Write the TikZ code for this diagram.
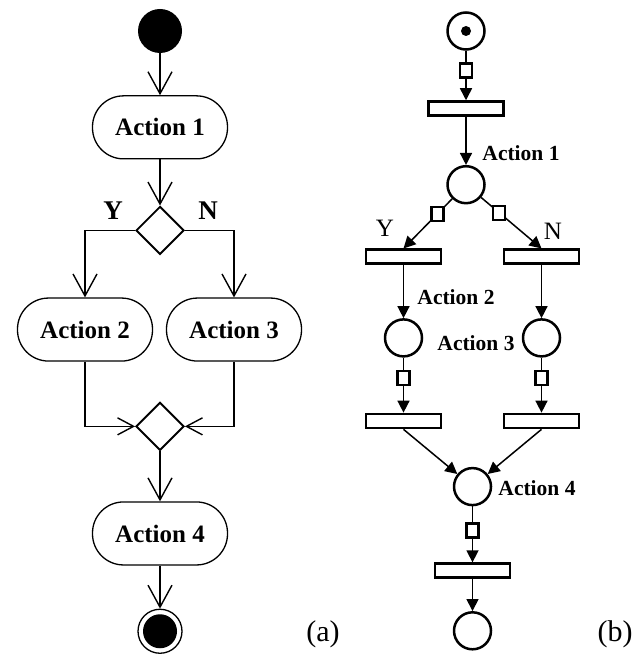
\documentclass[tikz,border=0pt]{standalone}
\usepackage{fontspec}
\setmainfont{Liberation Serif}
\usetikzlibrary{arrows.meta,positioning,shapes.geometric}

\begin{document}
\begin{tikzpicture}[
  x=1pt,y=-1pt,
  action/.style={draw,line width=1.3pt,rounded corners=31pt,minimum width=135pt,minimum height=63pt,font=\fontsize{25}{30}\selectfont\bfseries},
  decision/.style={diamond,draw,line width=1.9pt,minimum size=48pt,inner sep=0pt},
  initial/.style={circle,fill=black,minimum size=44pt,inner sep=0pt},
  final/.style={circle,draw,line width=1.3pt,minimum size=44pt,inner sep=0pt,path picture={\fill (path picture bounding box.center) circle (17pt);}},
  flow/.style={line width=1.4pt,-{Straight Barb[length=22pt,width=24pt]}},
  mergeflow/.style={line width=1.4pt,-{Straight Barb[length=16pt,width=17pt]}},
  guard/.style={font=\fontsize{27}{32}\selectfont\bfseries},
  place/.style={circle,draw,line width=2.5pt,minimum size=37pt,inner sep=0pt},
  marked/.style={place,path picture={\fill (path picture bounding box.center) circle (5pt);}},
  trans/.style={draw,line width=2.7pt,minimum width=75pt,minimum height=14pt,inner sep=0pt},
  cond/.style={draw,fill=white,line width=2.3pt,minimum width=12pt,minimum height=14pt,inner sep=0pt},
  arc/.style={line width=1.5pt,-{Triangle[length=12pt,width=12pt]}},
  plabel/.style={font=\fontsize{21.5}{26}\selectfont\bfseries},
  branch/.style={font=\fontsize{25}{30}\selectfont},
  caption/.style={font=\fontsize{30}{36}\selectfont}
]
\useasboundingbox (0,0) rectangle (643,660);

% (a) activity diagram
\node[initial] (start) at (160,31) {};
\node[action,below=42pt of start] (act1) {Action 1};
\node[decision,below=46pt of act1] (dec) {};
\node[action,below=42pt of dec,xshift=-75pt] (act2) {Action 2};
\node[action,below=42pt of dec,xshift=74pt] (act3) {Action 3};
\node[decision,below=146pt of dec] (merge) {};
\node[action,below=50pt of merge] (act4) {Action 4};
\node[final,below=43pt of act4] (stop) {};
\node[guard] (yL) at (113,211) {Y};
\node[guard] (nL) at (208,211) {N};
\node[caption] (capa) at (323,634) {(a)};

\draw[flow] (start) -- (act1);
\draw[flow] (act1) -- (dec);
\draw[flow] (dec.west) -| (act2.north);
\draw[flow] (dec.east) -| (act3.north);
\draw[mergeflow] (act2.south) |- (merge.west);
\draw[mergeflow] (act3.south) |- (merge.east);
\draw[flow] (merge) -- (act4);
\draw[flow] (act4) -- (stop);

% (b) Petri net
\node[marked] (p0) at (466,31) {};
\node[trans,below=49.5pt of p0] (t0) {};
\node[place,below=48pt of t0] (p1) {};
\node[trans,below=44pt of p1,xshift=-62.5pt] (tY) {};
\node[trans,below=44pt of p1,xshift=75.5pt] (tN) {};
\node[place,below=53pt of tY] (p2) {};
\node[place,below=53pt of tN] (p3) {};
\node[trans,below=55pt of p2] (t2) {};
\node[trans,below=55pt of p3] (t3) {};
\node[place,below=37.5pt of t2,xshift=69pt] (p4) {};
\node[trans,below=56pt of p4] (t4) {};
\node[place,below=32pt of t4] (p5) {};

\node[plabel] (lab1) at (521,153) {Action 1};
\node[plabel] (lab2) at (456,297) {Action 2};
\node[plabel] (lab3) at (476,343) {Action 3};
\node[plabel] (lab4) at (537,488) {Action 4};
\node[branch] (yR) at (385,228) {Y};
\node[branch] (nR) at (553,231) {N};
\node[caption] (capb) at (615,634) {(b)};

\draw[arc] (p0) -- node[cond,pos=0.4] (c0) {} (t0);
\draw[arc] (t0) -- (p1);
\draw[arc] (p1) -- node[cond,pos=0.3] (cY) {} (tY.north);
\draw[arc] (p1) -- node[cond,pos=0.3] (cN) {} (tN.north);
\draw[arc] (tY) -- (p2);
\draw[arc] (tN) -- (p3);
\draw[arc] (p2) -- node[cond,pos=0.37] (c2) {} (t2);
\draw[arc] (p3) -- node[cond,pos=0.37] (c3) {} (t3);
\draw[arc] (t2.south) -- (p4);
\draw[arc] (t3.south) -- (p4);
\draw[arc] (p4) -- node[cond,pos=0.43] (c4) {} (t4);
\draw[arc] (t4) -- (p5);
\end{tikzpicture}
\end{document}
